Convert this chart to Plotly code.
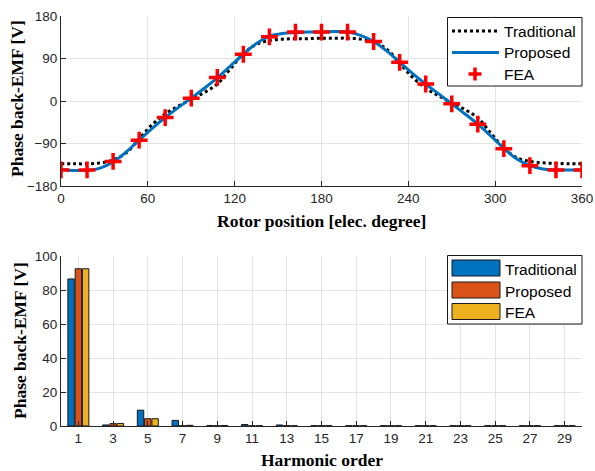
import plotly.graph_objects as go

# ---- Top: back-EMF waveforms ----
theta = list(range(0, 361, 9))
traditional = [-133, -133, -133, -131, -125, -110, -80, -50, -27, -11, 4, 18, 36, 68, 100, 120, 128, 131, 132, 132,
               133, 133, 133, 131, 125, 110, 80, 50, 27, 11, -4, -18, -36, -68, -100, -120, -128, -131, -132, -133, -133]
proposed = [-145, -147, -147, -142, -129, -108, -83, -58, -35, -14, 6, 27, 49, 74, 99, 122, 137, 143, 145, 146,
            146, 147, 146, 139, 126, 106, 82, 58, 36, 15, -6, -27, -49, -74, -100, -123, -137, -144, -146, -146, -146]
fea_theta = list(range(0, 361, 18))
fea = [-146, -146, -128, -83, -35, 6, 50, 99, 136, 146, 146, 146, 126, 82, 36, -6, -49, -101, -137, -146, -146]

# ---- Bottom: harmonic spectrum ----
orders = list(range(1, 30, 2))
harm_trad = [86.5, 0.6, 9.3, 3.3, 0.3, 0.9, 0.6, 0.2, 0.2, 0.2, 0.2, 0.2, 0.2, 0.2, 0.2]
harm_prop = [92.5, 1.4, 4.3, 0.2, 0.2, 0.2, 0.3, 0.2, 0.2, 0.2, 0.2, 0.2, 0.2, 0.2, 0.2]
harm_fea = [92.5, 1.5, 4.3, 0.4, 0.3, 0.2, 0.2, 0.2, 0.2, 0.2, 0.2, 0.2, 0.2, 0.2, 0.2]

series_names = ["Traditional", "Proposed", "FEA"]

W, H = 595, 471
ML, MR, MT, MB = 61, 13, 16, 45
PW, PH = W - ML - MR, H - MT - MB
BLUE, ORANGE, YELLOW = "#0072BD", "#D95319", "#EDB120"
AX = "#262626"
GRID = "#e3e3e3"
TICKFONT = dict(family="Liberation Sans, Arial", size=13.5, color=AX)
TITLEFONT = dict(family="Liberation Serif, Times New Roman", size=17.5, color="black")
LEGFONT = dict(family="Liberation Sans, Arial", size=15.5, color="black")


def ydom(top_px, bot_px):
    return [1 - (bot_px - MT) / PH, 1 - (top_px - MT) / PH]


def px(xp):
    return (xp - ML) / PW


def py(yp):
    return 1 - (yp - MT) / PH


fig = go.Figure()
fig.add_trace(go.Scatter(x=theta, y=traditional, mode="lines", name=series_names[0],
                         line=dict(color="black", width=3, dash="dot", shape="spline"),
                         xaxis="x", yaxis="y"))
fig.add_trace(go.Scatter(x=theta, y=proposed, mode="lines", name=series_names[1],
                         line=dict(color=BLUE, width=3, shape="spline"),
                         xaxis="x", yaxis="y"))
fig.add_trace(go.Scatter(x=fea_theta, y=fea, mode="markers", name=series_names[2],
                         marker=dict(symbol="cross-thin", size=12, color="red",
                                     line=dict(color="red", width=3.5)),
                         xaxis="x", yaxis="y"))

edge = dict(color="#1a1a1a", width=1)
for vals, col, nm in zip([harm_trad, harm_prop, harm_fea], [BLUE, ORANGE, YELLOW], series_names):
    fig.add_trace(go.Bar(x=orders, y=vals, name=nm, marker=dict(color=col, line=edge),
                         xaxis="x2", yaxis="y2"))

common = dict(showline=True, linecolor=AX, linewidth=1, ticks="inside", ticklen=5, tickcolor=AX,
              showgrid=True, gridcolor=GRID, gridwidth=1, zeroline=False, tickfont=TICKFONT, mirror=False,
              automargin=False)

shapes = []
annotations = []


def pline(x0, y0, x1, y1, **line):
    shapes.append(dict(type="line", xref="paper", yref="paper", x0=px(x0), y0=py(y0), x1=px(x1), y1=py(y1),
                       line=line, layer="above"))


def prect(x0, y0, x1, y1, fill, lc="#1a1a1a", lw=1):
    shapes.append(dict(type="rect", xref="paper", yref="paper", x0=px(x0), y0=py(y0), x1=px(x1), y1=py(y1),
                       fillcolor=fill, line=dict(color=lc, width=lw), layer="above"))


def ptext(x, y, text):
    annotations.append(dict(text=text, x=px(x), y=py(y), xref="paper", yref="paper", showarrow=False,
                            font=LEGFONT, xanchor="left", yanchor="middle"))


# top legend
prect(447.5, 17.5, 582, 86, "white")
rows_top = [31, 52.5, 74]
pline(452, rows_top[0], 499, rows_top[0], color="black", width=3, dash="dot")
pline(452, rows_top[1], 499, rows_top[1], color=BLUE, width=3)
pline(468.5, rows_top[2], 481.5, rows_top[2], color="red", width=3.5)
pline(475, rows_top[2] - 6.5, 475, rows_top[2] + 6.5, color="red", width=3.5)
for r, nm in zip(rows_top, series_names):
    ptext(502, r + 0.5, nm)

# bottom legend
prect(447.5, 255.5, 582, 324, "white")
rows_bot = [268, 290, 311.5]
for r, col, nm in zip(rows_bot, [BLUE, ORANGE, YELLOW], series_names):
    prect(452, r - 8, 500, r + 8, col)
    ptext(503, r + 1, nm)

annotations += [
    dict(text="<b>Rotor position [elec. degree]</b>", x=px((61 + 582) / 2), y=py(221),
         xref="paper", yref="paper", showarrow=False, font=TITLEFONT, xanchor="center", yanchor="middle"),
    dict(text="<b>Harmonic order</b>", x=px((61 + 582) / 2), y=py(460),
         xref="paper", yref="paper", showarrow=False, font=TITLEFONT, xanchor="center", yanchor="middle"),
    dict(text="<b>Phase back-EMF [V]</b>", x=px(17), y=py(99), textangle=-90,
         xref="paper", yref="paper", showarrow=False, font=TITLEFONT, xanchor="center", yanchor="middle"),
    dict(text="<b>Phase back-EMF [V]</b>", x=px(20), y=py(341), textangle=-90,
         xref="paper", yref="paper", showarrow=False, font=TITLEFONT, xanchor="center", yanchor="middle"),
]

fig.update_layout(
    width=W, height=H, margin=dict(l=ML, r=MR, t=MT, b=MB, autoexpand=False),
    paper_bgcolor="white", plot_bgcolor="white",
    barmode="group", bargap=0.37, bargroupgap=0.12,
    showlegend=False,
    xaxis=dict(domain=[0, 1], anchor="y", range=[0, 360], tickvals=[0, 60, 120, 180, 240, 300, 360], **common),
    yaxis=dict(domain=ydom(16, 186), anchor="x", range=[-180, 180],
               tickvals=[-180, -90, 0, 90, 180], **common),
    xaxis2=dict(domain=[0, 1], anchor="y2", range=[0, 30], tickvals=orders, **common),
    yaxis2=dict(domain=ydom(256, 426), anchor="x2", range=[0, 100],
                tickvals=[0, 20, 40, 60, 80, 100], **common),
    shapes=shapes,
    annotations=annotations,
)

fig.write_html("out.html")
